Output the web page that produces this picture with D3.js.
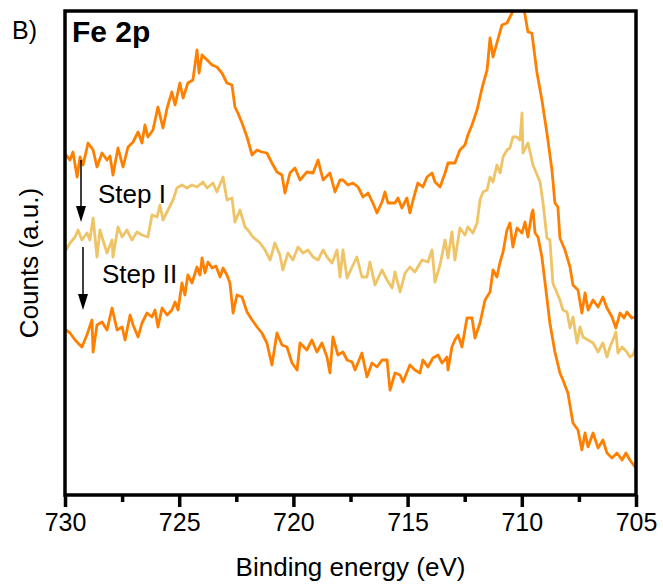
<!DOCTYPE html>
<html>
<head>
<meta charset="utf-8">
<script src="https://cdn.jsdelivr.net/npm/d3@7"></script>
<style>
  body { margin: 0; background: #fff; }
  svg { font-family: Arial, "Liberation Sans", sans-serif; }
</style>
</head>
<body>
<div id="chart"></div>
<script>
// Fe 2p spectra, binding energy (eV) and counts (a.u.)
const freshEnergy = [729.96,729.78,729.65,729.47,729.34,729.21,728.99,728.77,728.60,728.38,728.16,728.03,727.90,727.68,727.46,727.24,727.02,726.80,726.63,726.50,726.37,726.15,725.93,725.71,725.53,725.32,725.18,724.97,724.83,724.62,724.40,724.22,724.13,724.00,723.78,723.56,723.35,723.13,722.91,722.69,722.56,722.43,722.25,722.03,721.81,721.59,721.38,721.16,720.94,720.72,720.50,720.37,720.15,719.93,719.71,719.41,719.14,718.92,718.70,718.40,718.18,717.96,717.83,717.61,717.39,717.17,716.95,716.73,716.52,716.34,716.12,715.99,715.86,715.55,715.42,715.25,715.03,714.90,714.76,714.55,714.33,714.15,713.93,713.80,713.58,713.36,713.23,712.93,712.71,712.49,712.36,712.18,711.96,711.74,711.52,711.39,711.26,711.09,710.87,710.65,710.43,710.30,710.08,709.95,709.73,709.56,709.34,709.12,708.90,708.68,708.55,708.42,708.33,708.11,707.89,707.76,707.54,707.37,707.23,707.10,706.88,706.66,706.45,706.27,706.05,705.88,705.70,705.52,705.40,705.18,705.04];
const freshCounts = [340,335,343,318,338,330,352,345,328,342,335,339,320,347,328,348,353,363,352,370,358,365,388,367,387,403,390,412,397,412,415,445,422,440,435,430,428,422,412,410,388,382,372,358,340,345,343,342,332,323,320,302,322,327,315,323,322,335,315,322,303,315,315,310,312,308,298,302,292,282,293,303,292,292,297,287,297,282,295,312,308,318,322,313,308,322,332,332,345,350,360,370,385,407,425,457,438,452,470,472,482,492,494,492,463,462,423,395,362,325,292,288,257,245,228,210,205,182,202,185,195,188,198,187,178,167,182,177,183,177,178];

const stepIEnergy = [729.96,729.78,729.56,729.43,729.26,729.04,728.91,728.77,728.60,728.47,728.34,728.16,727.94,727.90,727.68,727.50,727.29,727.07,726.85,726.63,726.37,726.19,725.97,725.84,725.71,725.49,725.27,725.10,724.88,724.66,724.44,724.22,723.96,723.78,723.52,723.35,723.08,722.91,722.69,722.56,722.34,722.12,721.99,721.77,721.46,721.24,721.02,720.81,720.59,720.46,720.24,720.02,719.80,719.58,719.36,719.14,718.92,718.70,718.53,718.31,718.09,717.96,717.83,717.65,717.43,717.22,717.00,716.78,716.65,716.43,716.12,715.90,715.68,715.55,715.33,715.11,714.90,714.68,714.37,714.11,713.93,713.80,713.58,713.36,713.23,713.06,712.93,712.71,712.49,712.36,712.14,711.96,711.83,711.70,711.52,711.39,711.26,711.09,710.95,710.82,710.65,710.52,710.39,710.21,710.08,709.99,709.95,709.73,709.51,709.20,709.07,708.90,708.77,708.64,708.33,708.20,708.02,707.89,707.76,707.58,707.45,707.32,707.10,706.88,706.66,706.45,706.27,706.14,706.01,705.88,705.79,705.61,705.40,705.27,705.13,705.00];
const stepICounts = [245,252,258,265,255,262,255,277,238,265,255,242,255,238,268,258,265,255,263,260,258,280,278,290,275,285,295,307,310,307,310,308,313,307,312,303,318,295,297,273,285,268,265,258,252,245,235,252,240,225,242,235,248,242,245,238,235,245,238,232,245,218,245,217,228,238,218,218,233,210,225,215,207,223,203,222,228,223,235,233,245,213,230,255,237,263,235,267,260,268,262,272,295,303,305,318,313,330,322,338,345,347,358,358,355,382,342,352,330,313,292,257,255,212,195,185,183,167,178,152,168,158,155,152,143,152,138,148,155,163,142,148,143,138,140,148];

const stepIIEnergy = [729.96,729.78,729.56,729.26,729.04,728.82,728.77,728.60,728.38,728.16,727.94,727.72,727.50,727.37,727.15,727.02,726.80,726.63,726.41,726.19,726.06,725.93,725.75,725.53,725.32,725.18,725.05,724.88,724.75,724.62,724.44,724.22,724.09,724.00,723.87,723.74,723.56,723.39,723.21,723.08,722.91,722.78,722.64,722.47,722.25,722.03,721.81,721.59,721.38,721.16,720.94,720.72,720.50,720.28,720.06,719.84,719.71,719.41,719.19,718.97,718.75,718.53,718.40,718.27,718.05,717.83,717.65,717.43,717.30,717.00,716.78,716.56,716.34,716.12,715.90,715.77,715.55,715.33,715.20,714.90,714.68,714.46,714.33,714.11,713.89,713.67,713.49,713.28,713.23,713.06,712.93,712.79,712.62,712.40,712.18,712.05,711.83,711.61,711.39,711.26,711.09,710.95,710.82,710.65,710.52,710.39,710.21,709.99,709.86,709.73,709.56,709.51,709.42,709.29,709.12,708.98,708.77,708.55,708.33,708.20,707.98,707.76,707.54,707.37,707.23,707.10,706.88,706.66,706.45,706.27,706.05,705.83,705.61,705.44,705.27,705.04];
const stepIICounts = [165,162,155,148,160,175,143,170,173,165,187,165,168,155,180,170,158,172,182,178,185,168,187,180,185,193,185,212,200,220,212,228,220,237,222,233,227,229,218,227,220,212,182,200,198,183,175,168,162,152,130,162,150,148,132,125,152,145,155,143,152,138,122,158,140,143,135,133,125,142,118,132,128,135,135,105,122,120,113,130,125,122,135,128,137,140,132,138,125,148,155,160,148,177,177,157,172,195,203,225,218,233,243,265,272,248,267,262,273,258,282,285,262,258,238,212,172,143,122,115,102,72,65,45,62,48,62,47,55,42,37,42,35,42,35,28];

const xTicks = [730, 725, 720, 715, 710, 705];
const xMinorTicks = [727.5, 722.5, 717.5, 712.5, 707.5];

const width = 663, height = 588;
const margin = {top: 11, right: 27, bottom: 93, left: 65};

const orange = "#ff8000";
const tan = "#eec467";

const series = [
    {name: "fresh", energy: freshEnergy, counts: freshCounts, color: orange},
    {name: "step I", energy: stepIEnergy, counts: stepICounts, color: tan},
    {name: "step II", energy: stepIIEnergy, counts: stepIICounts, color: orange}
];

const x = d3.scaleLinear()
    .domain([730, 705])
    .range([margin.left, width - margin.right]);

const y = d3.scaleLinear()
    .domain([0, 484])
    .range([height - margin.bottom, margin.top]);

const svg = d3.select("#chart")
    .append("svg")
    .attr("width", width)
    .attr("height", height);

svg.append("defs").append("clipPath")
    .attr("id", "plot-clip")
    .append("rect")
    .attr("x", margin.left)
    .attr("y", margin.top)
    .attr("width", width - margin.left - margin.right)
    .attr("height", height - margin.top - margin.bottom);

const line = d3.line()
    .x(d => x(d[0]))
    .y(d => y(d[1]));

svg.append("g")
    .attr("clip-path", "url(#plot-clip)")
    .selectAll("path")
    .data(series)
    .join("path")
        .attr("fill", "none")
        .attr("stroke", d => d.color)
        .attr("stroke-width", 2.8)
        .attr("stroke-linejoin", "round")
        .attr("d", d => line(d.energy.map((e, i) => [e, d.counts[i]])));

// frame
svg.append("rect")
    .attr("x", margin.left)
    .attr("y", margin.top)
    .attr("width", width - margin.left - margin.right)
    .attr("height", height - margin.top - margin.bottom)
    .attr("fill", "none")
    .attr("stroke", "#000")
    .attr("stroke-width", 3.5);

// x axis
const xAxis = svg.append("g")
    .attr("transform", `translate(0,${height - margin.bottom})`)
    .call(d3.axisBottom(x).tickValues(xTicks).tickSize(12).tickPadding(6).tickFormat(d3.format("d")));
xAxis.select(".domain").remove();
xAxis.selectAll(".tick line").attr("stroke-width", 3.5);
xAxis.selectAll(".tick text")
    .attr("font-size", 25)
    .attr("font-family", "Arial, 'Liberation Sans', sans-serif")
    .attr("fill", "#000");

svg.append("g")
    .attr("transform", `translate(0,${height - margin.bottom})`)
    .call(d3.axisBottom(x).tickValues(xMinorTicks).tickSize(7).tickFormat(""))
    .call(g => g.select(".domain").remove())
    .selectAll(".tick line").attr("stroke-width", 3.5);

svg.append("text")
    .attr("x", (margin.left + width - margin.right) / 2)
    .attr("y", 576)
    .attr("text-anchor", "middle")
    .attr("font-size", 26)
    .text("Binding energy (eV)");

svg.append("text")
    .attr("transform", `translate(38,263) rotate(-90)`)
    .attr("text-anchor", "middle")
    .attr("font-size", 26)
    .text("Counts (a.u.)");

svg.append("text")
    .attr("x", 12).attr("y", 39)
    .attr("font-size", 25)
    .text("B)");

svg.append("text")
    .attr("x", 72).attr("y", 42)
    .attr("font-size", 30)
    .attr("font-weight", "bold")
    .text("Fe 2p");

// step arrows
const arrows = [
    {label: "Step I", x0: 81, y0: 160, y1: 222, tx: 98, ty: 203},
    {label: "Step II", x0: 83, y0: 247, y1: 310, tx: 102, ty: 283}
];

const ag = svg.append("g");
arrows.forEach(a => {
    ag.append("line")
        .attr("x1", a.x0).attr("x2", a.x0)
        .attr("y1", a.y0).attr("y2", a.y1 - 14)
        .attr("stroke", "#000")
        .attr("stroke-width", 1.5);
    ag.append("path")
        .attr("d", `M${a.x0 - 5},${a.y1 - 16}L${a.x0 + 5},${a.y1 - 16}L${a.x0},${a.y1}Z`)
        .attr("fill", "#000");
    ag.append("text")
        .attr("x", a.tx).attr("y", a.ty)
        .attr("font-size", 26)
        .text(a.label);
});
</script>
</body>
</html>
